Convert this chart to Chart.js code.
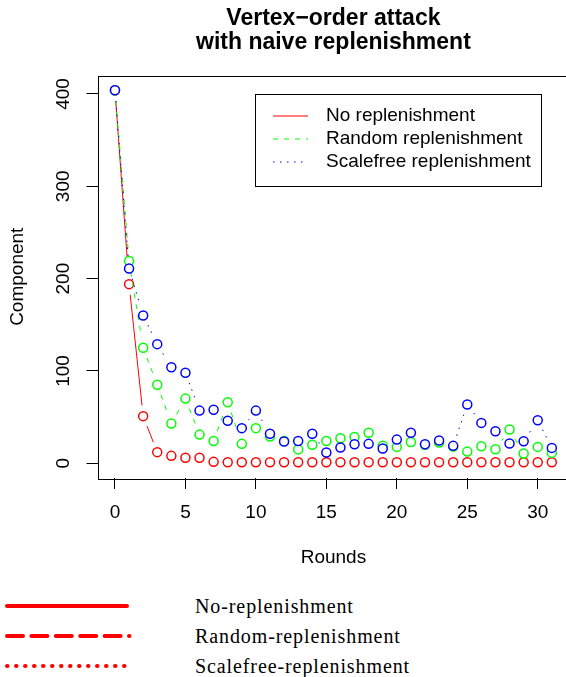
<!DOCTYPE html>
<html>
<head>
<meta charset="utf-8">
<script src="https://cdn.jsdelivr.net/npm/chart.js@4"></script>
<style>
  body { margin: 0; background: #fff; width: 566px; height: 677px; overflow: hidden; position: relative; }
  #wrap { position: absolute; left: 0; top: 0; width: 600px; height: 585px; }
  #legenda { position: absolute; left: 0; top: 590px; width: 566px; height: 87px; }
  #legenda svg { position: absolute; left: 0; top: 0; }
  .item { position: absolute; left: 195px; font-family: "Liberation Serif", "Times New Roman", serif; font-size: 20px; letter-spacing: 0.9px; color: #000; line-height: 20px; }
</style>
</head>
<body>
<div id="wrap"><canvas id="grafico" width="600" height="585"></canvas></div>
<div id="legenda">
  <svg width="140" height="87">
    <line x1="7" y1="16" x2="127" y2="16" stroke="#ff0000" stroke-width="4" stroke-linecap="round"/>
    <line x1="7" y1="46" x2="129.5" y2="46" stroke="#ff0000" stroke-width="4" stroke-linecap="round" stroke-dasharray="16 8.4"/>
    <line x1="7" y1="76" x2="125" y2="76" stroke="#ff0000" stroke-width="4" stroke-linecap="round" stroke-dasharray="0.5 8.5"/>
  </svg>
  <div class="item" style="top:6px">No-replenishment</div>
  <div class="item" style="top:36px">Random-replenishment</div>
  <div class="item" style="top:66px">Scalefree-replenishment</div>
</div>
<script>
// dados
const rodadas = [0,1,2,3,4,5,6,7,8,9,10,11,12,13,14,15,16,17,18,19,20,21,22,23,24,25,26,27,28,29,30,31];
const semReposicao = [404,194,51,12,8,6,6,1.5,1,1,1,1,1,1,1,1,1,1,1,1,1,1,1,1,1,1,1,1,1,1,1,1];
const reposicaoAleatoria = [404,219,125,85,43,70,31,24,66,21,38,29,24,15,20,24,27,28.5,33,19,17.7,23,20,22.4,18,12.6,18.4,15.2,36.5,10.5,17.7,11.2];
const reposicaoScalefree = [404,211,160,129,104,98,57,58,46,38,57,32,23.5,24,32,11.6,17,20.6,21,16,25.6,33,20.6,24.6,18.8,63.6,43.7,34.7,21.3,23.8,46.6,16.6];
const ticksX = [0,5,10,15,20,25,30];
const ticksY = [0,100,200,300,400];
const nomes = ['No replenishment','Random replenishment','Scalefree replenishment'];
const titulo = ['Vertex\u2212order attack','with naive replenishment'];

const fonte = '"Liberation Sans", Arial, Helvetica, sans-serif';
const cores = ['#ff0000','#00ff00','#0000ff'];
const tracos = [[], [5,6], [1.5,5.5]];
const GAP = 10.7;

function pontos(valores) {
    return rodadas.map((r, i) => ({x: r, y: valores[i]}));
}

function montarDataset(i, valores) {
    return {
        label: nomes[i],
        data: pontos(valores),
        borderColor: cores[i],
        backgroundColor: '#ffffff',
        pointRadius: 4.5,
        pointHoverRadius: 4.5,
        pointBorderWidth: 1.5,
        showLine: false,
        linhaComGap: true,
        tracejado: tracos[i],
        order: 3 - i
    };
}

// linhas estilo type="b" do R, com gap perto dos pontos
const linhasGap = {
    id: 'linhasGap',
    beforeDatasetDraw(chart, args) {
        const ds = chart.data.datasets[args.index];
        if (!ds.linhaComGap) return;
        const pts = args.meta.data;
        const ctx = chart.ctx;
        ctx.save();
        ctx.beginPath();
        ctx.rect(chart.chartArea.left, chart.chartArea.top, chart.chartArea.right - chart.chartArea.left, chart.chartArea.bottom - chart.chartArea.top);
        ctx.clip();
        ctx.strokeStyle = ds.borderColor;
        ctx.lineWidth = 1;
        for (var i = 0; i < pts.length - 1; i++) {
            var p0 = pts[i], p1 = pts[i + 1];
            var dx = p1.x - p0.x, dy = p1.y - p0.y;
            var len = Math.sqrt(dx * dx + dy * dy);
            if (len <= 2 * GAP) continue;
            var ux = dx / len, uy = dy / len;
            ctx.setLineDash(ds.tracejado);
            ctx.beginPath();
            ctx.moveTo(p0.x + ux * GAP, p0.y + uy * GAP);
            ctx.lineTo(p1.x - ux * GAP, p1.y - uy * GAP);
            ctx.stroke();
        }
        ctx.restore();
    }
};

const extras = {
    id: 'extras',
    afterDraw(chart) {
        const ctx = chart.ctx;
        const a = chart.chartArea;
        ctx.save();

        // caixa do grafico
        ctx.strokeStyle = '#000';
        ctx.lineWidth = 1;
        ctx.setLineDash([]);
        ctx.strokeRect(Math.round(a.left) + 0.5, Math.round(a.top) + 0.5, Math.round(a.right - a.left), Math.round(a.bottom - a.top));

        // titulo
        ctx.fillStyle = '#000';
        ctx.font = 'bold 23px ' + fonte;
        ctx.textAlign = 'center';
        ctx.textBaseline = 'middle';
        var cx = (a.left + a.right) / 2;
        ctx.fillText(titulo[0], cx, 19);
        ctx.fillText(titulo[1], cx, 43);

        // labels do eixo y, giradas
        ctx.font = '19px ' + fonte;
        ticksY.forEach(v => {
            var py = chart.scales.y.getPixelForValue(v);
            ctx.save();
            ctx.translate(63.5, py);
            ctx.rotate(-Math.PI / 2);
            ctx.fillText(String(v), 0, 0);
            ctx.restore();
        });

        // legenda interna
        var lx = a.left + 157.5, ly = a.top + 18.5;
        ctx.strokeRect(Math.round(lx) + 0.5, Math.round(ly) + 0.5, 286, 92);
        ctx.textAlign = 'left';
        nomes.forEach((n, i) => {
            var yy = ly + 22 + i * 23;
            ctx.strokeStyle = cores[i];
            ctx.setLineDash(tracos[i]);
            ctx.beginPath();
            ctx.moveTo(lx + 18, yy);
            ctx.lineTo(lx + 53, yy);
            ctx.stroke();
            ctx.fillStyle = '#000';
            ctx.fillText(n, lx + 71, yy);
        });
        ctx.restore();
    }
};

var ctxGrafico = document.getElementById('grafico').getContext('2d');

var grafico = new Chart(ctxGrafico, {
    type: 'scatter',
    data: {
        datasets: [
            montarDataset(0, semReposicao),
            montarDataset(1, reposicaoAleatoria),
            montarDataset(2, reposicaoScalefree)
        ]
    },
    options: {
        responsive: false,
        animation: false,
        layout: { padding: { top: 75.5, right: 30.7, left: 0, bottom: 0 } },
        plugins: {
            legend: { display: false },
            tooltip: { enabled: false },
            title: { display: false }
        },
        scales: {
            x: {
                type: 'linear',
                min: -1.24,
                max: 32.24,
                afterFit: s => { s.height = 107; },
                afterBuildTicks: s => { s.ticks = ticksX.map(v => ({value: v})); },
                grid: { drawOnChartArea: false, drawTicks: true, tickLength: 11, color: '#000', lineWidth: 1 },
                border: { display: false },
                ticks: { color: '#000', font: { size: 19, family: fonte }, padding: 12, maxRotation: 0, autoSkip: false },
                title: { display: true, text: 'Rounds', color: '#000', font: { size: 19, family: fonte }, padding: { top: 0, bottom: 15.6 } }
            },
            y: {
                type: 'linear',
                min: -16,
                max: 420,
                afterFit: s => { s.width = 97.5; },
                afterBuildTicks: s => { s.ticks = ticksY.map(v => ({value: v})); },
                grid: { drawOnChartArea: false, drawTicks: true, tickLength: 11, color: '#000', lineWidth: 1 },
                border: { display: false },
                ticks: { display: false },
                title: { display: true, text: 'Component', color: '#000', font: { size: 19, family: fonte }, padding: { top: 6, bottom: 0 } }
            }
        }
    },
    plugins: [linhasGap, extras]
});
</script>
</body>
</html>
